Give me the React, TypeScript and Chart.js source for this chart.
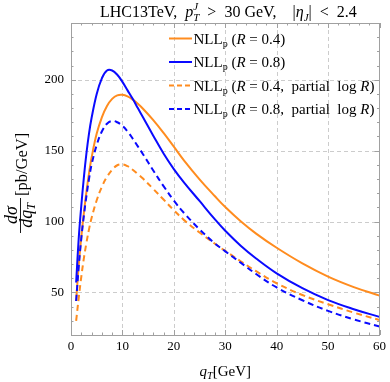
import React, { useEffect, useRef } from "react";
import { Chart, registerables } from "chart.js";

Chart.register(...registerables);

// ---------- data ----------
const qT = [1, 1.5, 2, 2.5, 3, 3.5, 4, 5, 6, 7, 8, 9, 10, 11, 12, 13, 14, 16, 18, 20, 22, 25, 28, 30, 33, 36, 40, 45, 50, 55, 60];
const nllR04 = [44, 69, 89, 106, 121, 134, 145, 162, 173.5, 181.5, 186.5, 189, 189.4, 188.3, 186, 183, 179.5, 171.5, 162.5, 152.8, 143, 129.8, 117.8, 110.2, 100.2, 91.5, 81.5, 70.5, 61.2, 53.8, 47.8];
const nllR08 = [57, 88, 111, 131, 148, 162, 173, 190, 201, 206.5, 206.5, 203.5, 198.5, 192.5, 186.5, 180, 173.5, 160.5, 148, 137, 127.5, 114.5, 101.5, 93.5, 83, 74, 63.5, 53, 44.6, 38.2, 32.8];
const partialR04 = [30, 46, 61, 74, 85, 94.5, 102.5, 115, 124.5, 131.5, 136.5, 139.7, 140.3, 139, 136.5, 133.5, 130.3, 123, 115.5, 108, 101, 92.3, 84.3, 79.3, 72, 65, 56.5, 48.2, 41.7, 35.8, 30.6];
const partialR08 = [44, 68, 88, 104, 118, 130, 140, 154, 163.5, 169, 171, 170, 167.5, 163.5, 158.5, 153, 147.5, 136, 125, 114.8, 106, 94.5, 84.5, 79, 71, 63, 53.5, 44.5, 37, 31, 26];

const xMin = 0, xMax = 60;
const yMin = 20, yMax = 240;
const xMajorTicks = [0, 10, 20, 30, 40, 50, 60];
const yMajorTicks = [50, 100, 150, 200];
const xMinorStep = 2;
const yMinorStep = 10;

const legendRValues = ["0.4", "0.8", "0.4", "0.8"];
const legendPartial = [false, false, true, true];

const ORANGE = "#ff8c1f";
const BLUE = "#0a0aff";
const SERIF = '"Liberation Serif", "Times New Roman", serif';
const FRAME = "#a0a0a0";
const GRID = "#cccccc";

type Seg = { t: string; it?: boolean; size?: number; dy?: number; noAdv?: boolean };

function segWidth(ctx: CanvasRenderingContext2D, segs: Seg[], base: number) {
  let w = 0;
  for (const s of segs) {
    ctx.font = `${s.it ? "italic " : ""}${s.size ?? base}px ${SERIF}`;
    if (!s.noAdv) w += ctx.measureText(s.t).width;
  }
  return w;
}

function drawRich(ctx: CanvasRenderingContext2D, segs: Seg[], x: number, y: number, base: number) {
  let cx = x;
  for (const s of segs) {
    ctx.font = `${s.it ? "italic " : ""}${s.size ?? base}px ${SERIF}`;
    ctx.fillText(s.t, cx, y + (s.dy ?? 0));
    if (!s.noAdv) cx += ctx.measureText(s.t).width;
  }
  return cx - x;
}

const decorPlugin = {
  id: "decor",
  beforeDraw(chart: any) {
    const ctx = chart.ctx;
    ctx.save();
    ctx.fillStyle = "#ffffff";
    ctx.fillRect(0, 0, chart.width, chart.height);
    ctx.restore();
  },
  beforeDatasetsDraw(chart: any) {
    const ctx: CanvasRenderingContext2D = chart.ctx;
    const { left, right, top, bottom } = chart.chartArea;
    const xs = chart.scales.x, ys = chart.scales.y;
    ctx.save();
    ctx.strokeStyle = GRID;
    ctx.lineWidth = 1;
    ctx.setLineDash([4, 3]);
    for (const v of xMajorTicks) {
      if (v === xMin || v === xMax) continue;
      const px = Math.round(xs.getPixelForValue(v)) + 0.5;
      ctx.beginPath(); ctx.moveTo(px, top); ctx.lineTo(px, bottom); ctx.stroke();
    }
    for (const v of yMajorTicks) {
      const py = Math.round(ys.getPixelForValue(v)) + 0.5;
      ctx.beginPath(); ctx.moveTo(left, py); ctx.lineTo(right, py); ctx.stroke();
    }
    ctx.restore();
  },
  afterDraw(chart: any) {
    const ctx: CanvasRenderingContext2D = chart.ctx;
    const { left, right, top, bottom } = chart.chartArea;
    const xs = chart.scales.x, ys = chart.scales.y;
    ctx.save();
    // frame
    ctx.strokeStyle = FRAME;
    ctx.lineWidth = 1;
    ctx.setLineDash([]);
    ctx.strokeRect(Math.round(left) + 0.5, Math.round(top) + 0.5, Math.round(right - left) - 1, Math.round(bottom - top));
    // ticks
    const drawX = (v: number, len: number) => {
      const px = Math.round(xs.getPixelForValue(v)) + 0.5;
      ctx.beginPath();
      ctx.moveTo(px, bottom); ctx.lineTo(px, bottom - len);
      ctx.moveTo(px, top); ctx.lineTo(px, top + len);
      ctx.stroke();
    };
    const drawY = (v: number, len: number) => {
      const py = Math.round(ys.getPixelForValue(v)) + 0.5;
      ctx.beginPath();
      ctx.moveTo(left, py); ctx.lineTo(left + len, py);
      ctx.moveTo(right, py); ctx.lineTo(right - len, py);
      ctx.stroke();
    };
    for (let v = xMin; v <= xMax; v += xMinorStep) {
      drawX(v, xMajorTicks.includes(v) ? 5 : 2.5);
    }
    for (let v = 30; v <= yMax; v += yMinorStep) {
      drawY(v, yMajorTicks.includes(v) ? 5 : 2.5);
    }

    ctx.fillStyle = "#000";
    ctx.textBaseline = "alphabetic";
    ctx.textAlign = "left";

    // title
    const title: Seg[] = [
      { t: "LHC13TeV,  " },
      { t: "p", it: true },
      { t: "J", it: true, size: 11, dy: -7, noAdv: true },
      { t: "T", it: true, size: 11, dy: 4 },
      { t: "  >  30 GeV,    |" },
      { t: "η", it: true },
      { t: "J", it: true, size: 11, dy: 4 },
      { t: "|  <  2.4" },
    ];
    drawRich(ctx, title, 100, 17, 16);

    // legend
    const rowsY = [38.5, 62, 85.5, 109];
    const colors = [ORANGE, BLUE, ORANGE, BLUE];
    for (let i = 0; i < 4; i++) {
      const cy = rowsY[i];
      ctx.strokeStyle = colors[i];
      ctx.lineWidth = 2;
      ctx.setLineDash(legendPartial[i] ? [5, 3] : []);
      ctx.beginPath(); ctx.moveTo(169, cy); ctx.lineTo(192, cy); ctx.stroke();
      ctx.setLineDash([]);
      const segs: Seg[] = [
        { t: "NLL" },
        { t: "p", size: 10, dy: 3 },
        { t: " (" },
        { t: "R", it: true },
      ];
      if (legendPartial[i]) {
        segs.push({ t: ` = ${legendRValues[i]},  partial  log ` }, { t: "R", it: true }, { t: ")" });
      } else {
        segs.push({ t: ` = ${legendRValues[i]})` });
      }
      drawRich(ctx, segs, 193.5, cy + 5, 15);
    }

    // x title
    const xt: Seg[] = [{ t: "q", it: true }, { t: "T", it: true, size: 10.5, dy: 3 }, { t: "[GeV]" }];
    const xw = segWidth(ctx, xt, 15);
    drawRich(ctx, xt, (left + right) / 2 - xw / 2, 376, 15);

    // y title (rotated)
    ctx.save();
    ctx.translate(20, 234);
    ctx.rotate(-Math.PI / 2);
    const num: Seg[] = [{ t: "dσ", it: true }];
    const den: Seg[] = [{ t: "dq", it: true }, { t: "T", it: true, size: 12, dy: 3 }];
    const nw = segWidth(ctx, num, 18);
    const dw = segWidth(ctx, den, 18);
    const fw = 36;
    drawRich(ctx, num, fw / 2 - nw / 2 + 1, -3, 18);
    drawRich(ctx, den, fw / 2 - dw / 2 + 0.5, 12, 18);
    ctx.strokeStyle = "#000";
    ctx.lineWidth = 0.9;
    ctx.beginPath(); ctx.moveTo(1, 0.5); ctx.lineTo(fw, 0.5); ctx.stroke();
    drawRich(ctx, [{ t: "[pb/GeV]" }], fw + 2, 7, 16.5);
    ctx.restore();

    ctx.restore();
  },
};

export default function App() {
  const ref = useRef<HTMLCanvasElement | null>(null);
  useEffect(() => {
    document.body.style.margin = "0";
    const canvas = ref.current;
    if (!canvas) return;
    const mk = (arr: number[]) => qT.map((x, i) => ({ x, y: arr[i] }));
    const common = { borderWidth: 2, pointRadius: 0, tension: 0.4, fill: false };
    const chart = new Chart(canvas, {
      type: "line",
      data: {
        datasets: [
          { label: "NLLp (R = 0.4)", data: mk(nllR04), borderColor: ORANGE, order: 4, ...common },
          { label: "NLLp (R = 0.8)", data: mk(nllR08), borderColor: BLUE, order: 3, ...common },
          { label: "NLLp (R = 0.4, partial log R)", data: mk(partialR04), borderColor: ORANGE, borderDash: [6, 4], order: 2, ...common },
          { label: "NLLp (R = 0.8, partial log R)", data: mk(partialR08), borderColor: BLUE, borderDash: [6, 4], order: 1, ...common },
        ],
      },
      options: {
        animation: false,
        responsive: true,
        maintainAspectRatio: false,
        layout: { padding: { left: 0, top: 23, right: 7, bottom: 0 } },
        plugins: { legend: { display: false }, title: { display: false }, tooltip: { enabled: false } },
        scales: {
          x: {
            type: "linear",
            min: xMin,
            max: xMax,
            afterBuildTicks: (s: any) => { s.ticks = xMajorTicks.map((v) => ({ value: v })); },
            afterFit: (s: any) => { s.height = 47; },
            grid: { display: false, drawTicks: false },
            border: { display: false },
            ticks: { color: "#000", padding: 4, maxRotation: 0, font: { family: SERIF, size: 13 } },
          },
          y: {
            type: "linear",
            min: yMin,
            max: yMax,
            afterBuildTicks: (s: any) => { s.ticks = yMajorTicks.map((v) => ({ value: v })); },
            afterFit: (s: any) => { s.width = 71; },
            grid: { display: false, drawTicks: false },
            border: { display: false },
            ticks: { color: "#000", padding: 7, font: { family: SERIF, size: 13 } },
          },
        },
      },
      plugins: [decorPlugin],
    } as any);
    return () => chart.destroy();
  }, []);
  return (
    <div style={{ position: "relative", width: 390, height: 382 }}>
      <canvas ref={ref} />
    </div>
  );
}
